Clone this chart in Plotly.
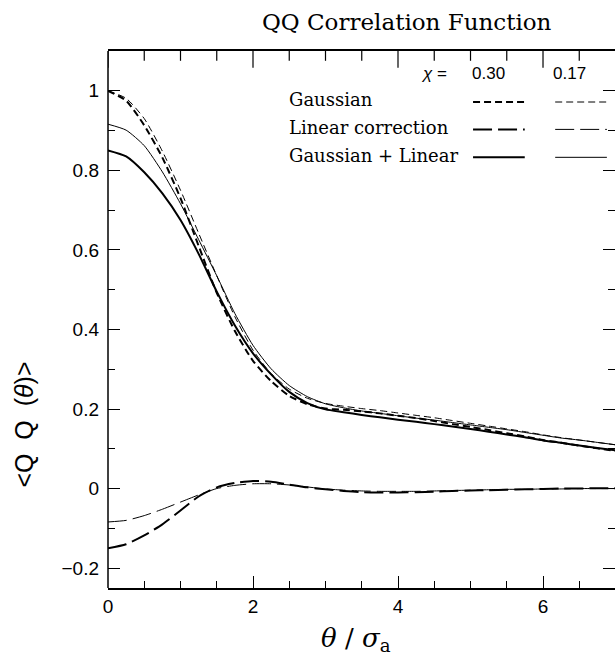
import plotly.graph_objects as go

# separation theta / sigma_a
theta = [0.0, 0.25, 0.5, 0.75, 1.0, 1.25, 1.5, 1.75, 2.0, 2.25, 2.5, 2.75, 3.0, 3.25, 3.5,
         3.75, 4.0, 4.25, 4.5, 4.75, 5.0, 5.25, 5.5, 5.75, 6.0, 6.25, 6.5, 6.75, 7.0]

# chi = 0.30
gauss_030 = [1.000, 0.975, 0.913, 0.832, 0.730, 0.610, 0.492, 0.396, 0.321, 0.270, 0.233, 0.212,
             0.201, 0.198, 0.194, 0.189, 0.183, 0.177, 0.170, 0.162, 0.155, 0.147, 0.139, 0.131,
             0.122, 0.115, 0.108, 0.101, 0.095]
linear_030 = [-0.150, -0.140, -0.118, -0.090, -0.055, -0.020, 0.003, 0.014, 0.019, 0.017, 0.010,
              0.003, -0.002, -0.006, -0.009, -0.010, -0.010, -0.009, -0.008, -0.006, -0.005,
              -0.004, -0.003, -0.002, -0.001, 0.000, 0.000, 0.001, 0.001]
total_030 = [0.850, 0.835, 0.795, 0.742, 0.675, 0.590, 0.495, 0.410, 0.340, 0.287, 0.243, 0.215,
             0.199, 0.192, 0.185, 0.179, 0.173, 0.168, 0.162, 0.156, 0.150, 0.143, 0.136, 0.129,
             0.121, 0.115, 0.108, 0.102, 0.096]

# chi = 0.17
gauss_017 = [1.000, 0.981, 0.930, 0.848, 0.750, 0.642, 0.535, 0.432, 0.348, 0.289, 0.250, 0.227,
             0.214, 0.207, 0.201, 0.196, 0.190, 0.184, 0.178, 0.171, 0.164, 0.157, 0.150, 0.143,
             0.135, 0.128, 0.122, 0.116, 0.110]
linear_017 = [-0.084, -0.080, -0.068, -0.052, -0.034, -0.016, 0.000, 0.008, 0.012, 0.012, 0.009,
              0.004, -0.001, -0.004, -0.006, -0.007, -0.007, -0.007, -0.006, -0.005, -0.004,
              -0.003, -0.002, -0.002, -0.001, -0.001, 0.000, 0.000, 0.000]
total_017 = [0.916, 0.901, 0.862, 0.796, 0.716, 0.626, 0.535, 0.440, 0.360, 0.301, 0.259, 0.231,
             0.213, 0.203, 0.195, 0.189, 0.183, 0.177, 0.172, 0.166, 0.160, 0.154, 0.148, 0.141,
             0.134, 0.127, 0.122, 0.116, 0.110]

legend_rows = ["Gaussian", "Linear correction", "Gaussian + Linear"]
chi_values = ["0.30", "0.17"]

SERIF = "DejaVu Serif"
SANS = "Liberation Sans"
SHORT_DASH = "7px,4px"
LONG_DASH = "19px,6px"
X_MAX = 6.993
Y_RANGE = [-0.25, 1.1]

series = [
    (gauss_030, 2, SHORT_DASH),
    (gauss_017, 1, SHORT_DASH),
    (linear_030, 2, LONG_DASH),
    (linear_017, 1, LONG_DASH),
    (total_030, 2, "solid"),
    (total_017, 1, "solid"),
]

fig = go.Figure()
for values, width, dash in series:
    fig.add_trace(go.Scatter(
        x=theta, y=values, mode="lines",
        line=dict(color="black", width=width, dash=dash, shape="spline", smoothing=0.6),
        hoverinfo="skip"
    ))

# tick marks along the top edge: half of each marker is clipped by the frame
top_major = [v * 2.0 for v in range(4)]
top_minor = [v * 0.5 for v in range(14) if v % 4]
for ticks_x, size in [(top_major, 24), (top_minor, 14)]:
    fig.add_trace(go.Scatter(
        x=ticks_x, y=[Y_RANGE[1]] * len(ticks_x), mode="markers", cliponaxis=True,
        marker=dict(symbol="line-ns", size=size, color="black", line=dict(color="black", width=1.2)),
        hoverinfo="skip"
    ))

fig.update_layout(
    width=615, height=658,
    margin=dict(l=108, r=0, t=51, b=70),
    plot_bgcolor="white", paper_bgcolor="white",
    showlegend=False,
    font=dict(family=SANS, size=19, color="black"),
)

fig.update_xaxes(range=[0, X_MAX], dtick=2, ticks="inside", ticklen=12, tickwidth=1,
                 tickcolor="black", showgrid=False, zeroline=False, mirror=True,
                 showline=True, linewidth=1.5, linecolor="black",
                 minor=dict(dtick=0.5, ticks="inside", ticklen=7, tickcolor="black", showgrid=False))
fig.update_yaxes(range=Y_RANGE, dtick=0.2, ticks="inside", ticklen=12, tickwidth=1,
                 tickcolor="black", showgrid=False, zeroline=False, mirror="allticks",
                 showline=False, ticklabelstandoff=8,
                 minor=dict(dtick=0.1, ticks="inside", ticklen=7, tickcolor="black", showgrid=False))

# left edge of the frame (right edge is cut off in the original)
fig.add_shape(type="line", x0=0, y0=0, x1=0, y1=1, xref="paper", yref="paper",
              line=dict(color="black", width=1.5), layer="above")

def label(text, x, y, size, family=SERIF, xanchor="center", angle=0):
    fig.add_annotation(text=text, x=x, y=y, xref="paper", yref="paper", showarrow=False,
                       xanchor=xanchor, yanchor="middle", textangle=angle,
                       font=dict(family=family, size=size, color="black"))

# titles
label("QQ Correlation Function", 0.59, 1.054, 23)
label("<i>θ</i> / <i>σ</i><sub>a</sub>", 0.49, -0.095, 26)
label("&lt;Q  Q  (<i>θ</i>)&gt;", -0.166, 0.304, 25, family=SANS, angle=-90)

# legend block
label("<i>χ</i> =", 0.643, 0.959, 17, family=SANS)
for chi, xc in zip(chi_values, [0.750, 0.911]):
    label(chi, xc, 0.959, 17, family=SANS)

row_y = [0.909, 0.858, 0.806]
row_dash = [SHORT_DASH, LONG_DASH, "solid"]
for text, yr, dash in zip(legend_rows, row_y, row_dash):
    label(text, 0.353, yr, 18, xanchor="left")
    for (x0, x1), w in zip([(0.720, 0.822), (0.882, 0.984)], [2, 1]):
        fig.add_shape(type="line", x0=x0, x1=x1, y0=yr - 0.004, y1=yr - 0.004,
                      xref="paper", yref="paper",
                      line=dict(color="black", width=w, dash=dash))

fig.write_html("out.html", config={"displayModeBar": False},
               post_script="document.body.style.margin='0';")
